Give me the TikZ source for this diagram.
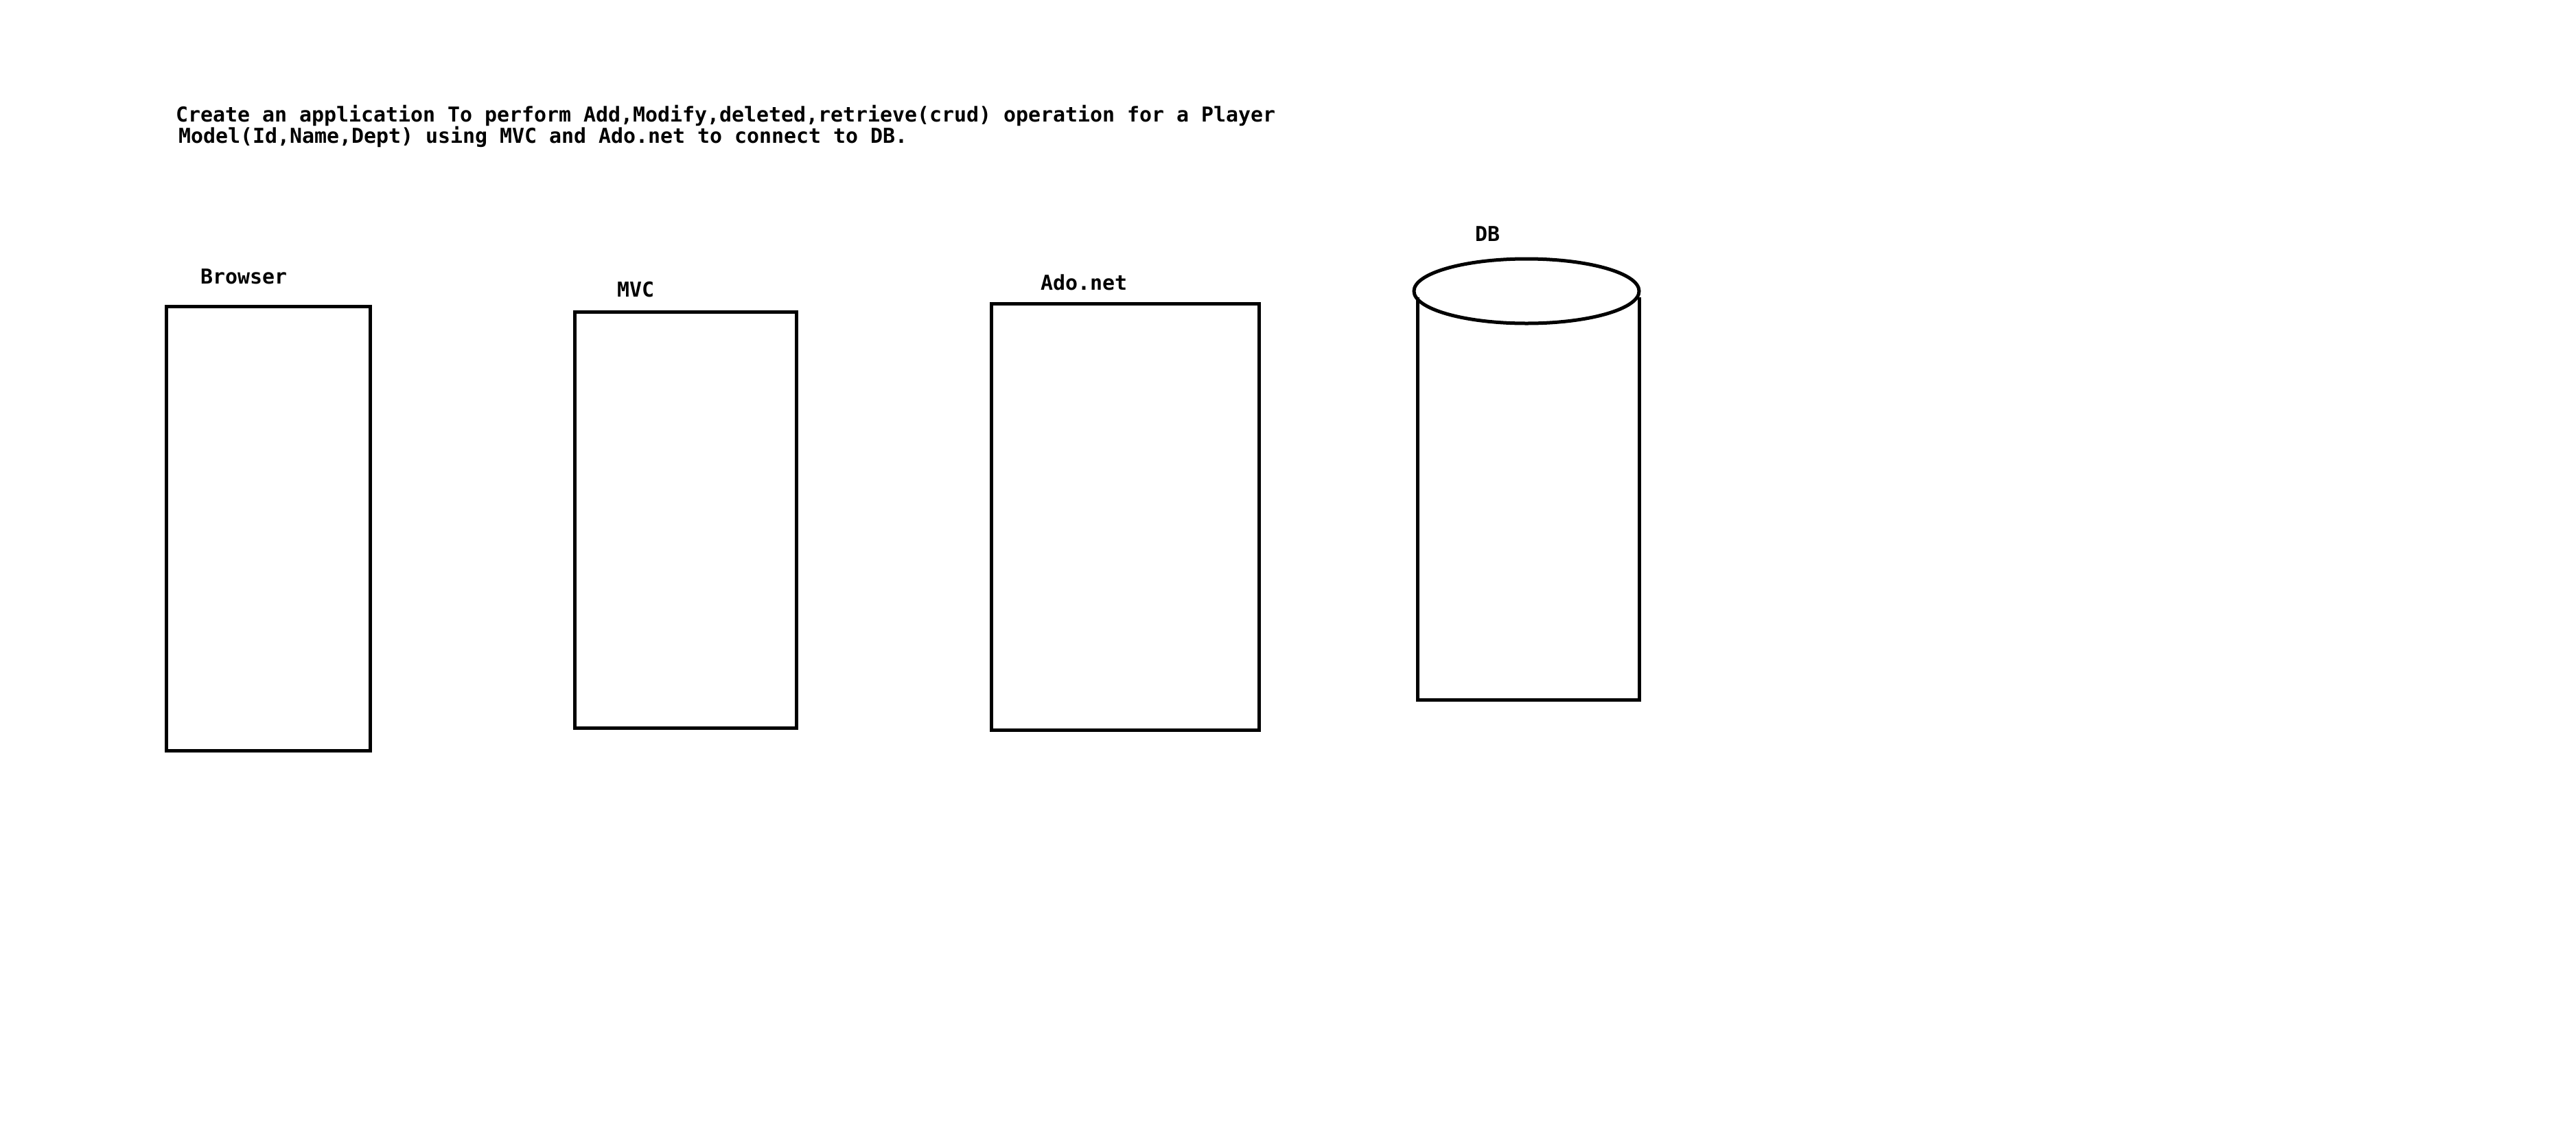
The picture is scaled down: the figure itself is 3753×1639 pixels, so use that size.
\documentclass[tikz,border=0pt]{standalone}
\usepackage{fontspec}
\setmonofont{DejaVu Sans Mono}
\begin{document}
\begin{tikzpicture}[x=1pt,y=-1pt,
  txt/.style={anchor=base west,inner sep=0pt,font=\ttfamily\bfseries\fontsize{29.9pt}{31pt}\selectfont},
  box/.style={draw,line width=5pt,inner sep=0pt,outer sep=0pt},
  dbline/.style={line width=5pt}]
\useasboundingbox[fill=white] (0,0) rectangle (3753,1639);
\node[txt] (title1) at (256,177) {Create an application To perform Add,Modify,deleted,retrieve(crud) operation for a Player};
\node[txt] (title2) at (260,208) {Model(Id,Name,Dept) using MVC and Ado.net to connect to DB.};
\node[txt] (lbrowser) at (292,413) {Browser};
\node[txt] (lmvc) at (899,432) {MVC};
\node[txt] (lado) at (1516,422) {Ado.net};
\node[txt] (ldb) at (2149,351) {DB};
\node[box,minimum width=297pt,minimum height=647pt] (browser) at (391,770) {};
\node[box,minimum width=322.5pt,minimum height=606pt] (mvc) at (998.75,757) {};
\node[box,minimum width=390pt,minimum height=621pt] (ado) at (1639,752.5) {};
\draw[dbline] (2224,424) ellipse [x radius=164pt, y radius=47pt];
\draw[dbline] (2065,433) -- (2065,1019) -- (2388,1019) -- (2388,433);
\end{tikzpicture}
\end{document}
